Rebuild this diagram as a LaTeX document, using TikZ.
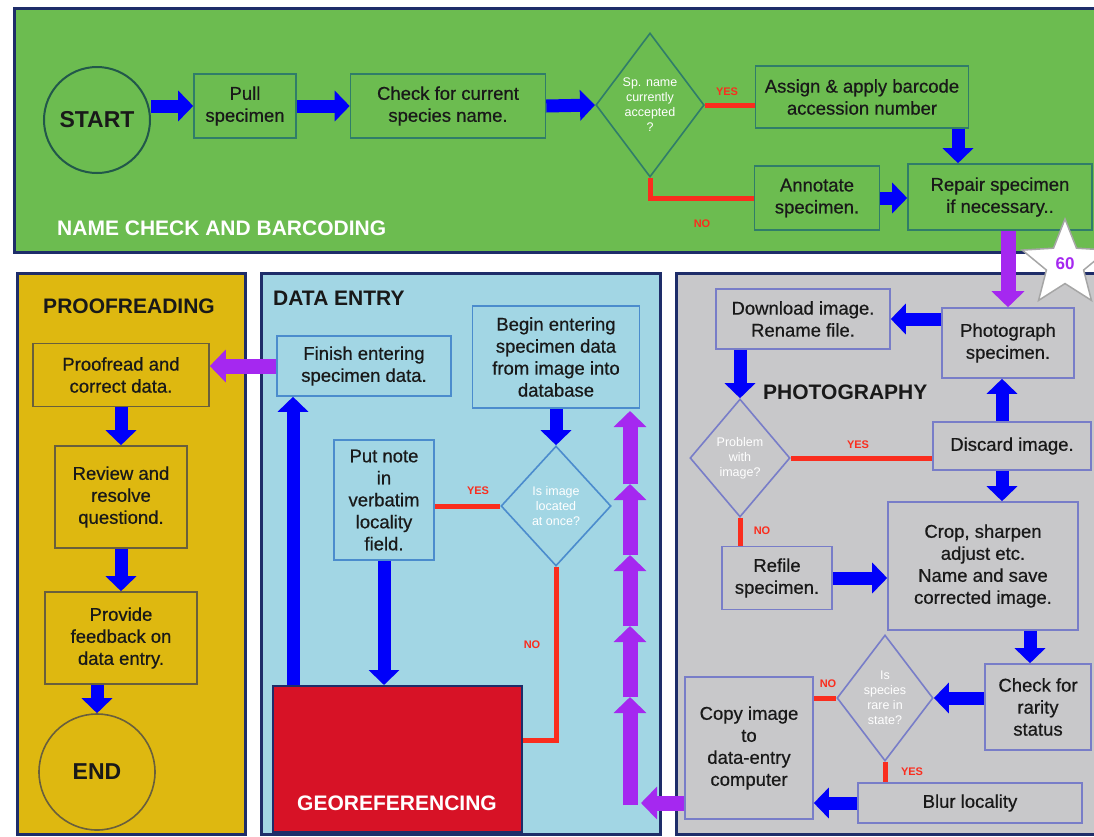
\documentclass[tikz,border=0pt]{standalone}
\usepackage{fontspec}
\setmainfont{Liberation Sans}
\newfontfamily\boxfont{Liberation Sans}[FakeBold=0.6]
\usetikzlibrary{shapes.geometric,arrows.meta}
\definecolor{gfill}{RGB}{108,188,80}
\definecolor{gline}{RGB}{48,125,105}
\definecolor{yfill}{RGB}{222,184,16}
\definecolor{yline}{RGB}{105,95,60}
\definecolor{bfill}{RGB}{162,214,228}
\definecolor{bline}{RGB}{75,140,205}
\definecolor{sfill}{RGB}{200,200,202}
\definecolor{sline}{RGB}{120,125,200}
\definecolor{navy}{RGB}{30,45,105}
\definecolor{arrblue}{RGB}{0,0,250}
\definecolor{arrpurple}{RGB}{165,40,240}
\definecolor{lred}{RGB}{250,45,30}
\definecolor{geored}{RGB}{215,18,38}
\definecolor{txt}{RGB}{25,25,25}
\begin{document}
\begin{tikzpicture}[x=1pt,y=-1pt,
 panel/.style={draw=navy,line width=3pt},
 box/.style={rectangle,draw,line width=1.6pt,align=center,inner sep=2pt,text=txt,font=\boxfont\fontsize{18.5}{22}\selectfont},
 gbox/.style={box,draw=gline,fill=gfill},
 ybox/.style={box,draw=yline,fill=yfill},
 bbox/.style={box,draw=bline,fill=bfill},
 sbox/.style={box,draw=sline,fill=sfill},
 dia/.style={diamond,draw,line width=1.6pt,align=center,inner sep=0pt,text=white,font=\fontsize{12.5}{15}\selectfont},
 headtxt/.style={font=\bfseries\fontsize{21}{24}\selectfont,text=txt,inner sep=0pt},
 barrow/.style={draw=arrblue,line width=13pt,-{Triangle[length=15pt,width=30pt]}},
 parrow/.style={draw=arrpurple,line width=15pt,-{Triangle[length=16pt,width=32pt]}},
 rline/.style={draw=lred,line width=5pt},
 rlab/.style={text=lred,font=\bfseries\fontsize{11}{12}\selectfont,inner sep=0pt},
]
\fill[white] (0,0) rectangle (1094,836);
\useasboundingbox (0,0) rectangle (1094,836);
% panels
\draw[panel,fill=gfill] (14,8) rectangle (1100,252);
\draw[panel,fill=yfill] (17,273) rectangle (245,834);
\draw[panel,fill=bfill] (261,273) rectangle (660,834);
\draw[panel,fill=sfill] (676,273) rectangle (1100,834);

% ---------- name check and barcoding
\node[circle,draw=gline!70!black,line width=2pt,minimum size=106pt,inner sep=0pt,text=txt,font=\bfseries\fontsize{23}{26}\selectfont] (start) at (97,120) {START};
\node[gbox,minimum width=102pt,minimum height=64pt] (pull) at (245,106) {Pull\\specimen};
\node[gbox,minimum width=195pt,minimum height=64pt] (check) at (448,106) {Check for current\\species name.};
\node[dia,draw=gline,minimum width=100pt,minimum height=144pt] (d1) at (650,105) {Sp. name\\currently\\accepted\\?};
\node[gbox,minimum width=213pt,minimum height=62pt] (assign) at (862,97) {Assign \& apply barcode\\accession number};
\node[gbox,minimum width=125pt,minimum height=64pt] (annot) at (817,198) {Annotate\\specimen.};
\node[gbox,minimum width=184pt,minimum height=66pt] (repair) at (1000,197) {Repair specimen\\if necessary..};
\node[headtxt,text=white,anchor=west] (ttl1) at (57,228) {NAME CHECK AND BARCODING};

\draw[barrow] (start.east |- pull.west) -- (pull.west);
\draw[barrow] (pull.east) -- (check.west);
\draw[barrow] (check.east) -- (d1.west);
\draw[rline] (d1.east) -- (d1.east -| assign.west);
\node[rlab] (yes1) at (727,92) {YES};
\draw[barrow] ([xshift=96pt]assign.south) -- ([xshift=96pt]assign.south |- repair.north);
\draw[rline] (d1.south) -- (d1.south |- annot.west) -- (annot.west);
\node[rlab] (no1) at (702,224) {NO};
\draw[barrow] (annot.east) -- (annot.east -| repair.west);

% ---------- proofreading
\node[headtxt] (ttl2) at (129,306) {PROOFREADING};
\node[ybox,minimum width=176pt,minimum height=63pt] (proof) at (121,375) {Proofread and\\correct data.};
\node[ybox,minimum width=132pt,minimum height=102pt] (review) at (121,497) {Review and\\resolve\\questiond.};
\node[ybox,minimum width=152pt,minimum height=92pt] (provide) at (121,638) {Provide\\feedback on\\data entry.};
\node[circle,draw=yline,line width=1.6pt,minimum size=116pt,inner sep=0pt,text=txt,font=\bfseries\fontsize{23}{26}\selectfont] (end) at (97,772) {END};
\draw[barrow] (proof.south) -- (proof.south |- review.north);
\draw[barrow] (review.south) -- (review.south |- provide.north);
\draw[barrow] (provide.south -| end.north) -- (end.north);

% ---------- data entry
\node[headtxt,anchor=west] (ttl3) at (273,298) {DATA ENTRY};
\node[bbox,minimum width=174pt,minimum height=60pt] (finish) at (364,366) {Finish entering\\specimen data.};
\node[bbox,minimum width=167pt,minimum height=102pt] (begin) at (556,357) {Begin entering\\specimen data\\from image into\\database};
\node[bbox,minimum width=100pt,minimum height=120pt] (putnote) at (384,500) {Put note\\in\\verbatim\\locality\\field.};
\node[dia,draw=bline,minimum width=110pt,minimum height=120pt] (d2) at (556,506) {Is image\\located\\at once?};
\node[rectangle,draw=navy,line width=2pt,fill=geored,minimum width=249pt,minimum height=146pt,
  label={[headtxt,text=white,anchor=south,yshift=22pt]south:GEOREFERENCING}] (georef) at (397,759) {};
\coordinate (geoin) at ([yshift=19pt]georef.east);

\draw[barrow] ([xshift=-104pt]georef.north) -- ([xshift=-104pt]georef.north |- finish.south);
\draw[barrow] (putnote.south) -- (putnote.south |- georef.north);
\draw[barrow] (begin.south -| d2.north) -- (d2.north);
\draw[rline] (d2.west) -- (d2.west -| putnote.east);
\node[rlab] (yes2) at (478,491) {YES};
\draw[rline] (d2.south) -- (d2.south |- geoin) -- (geoin);
\node[rlab] (no2) at (532,645) {NO};
\draw[parrow] (finish.west) -- (finish.west -| proof.east);

% purple stack
\coordinate (pA) at (630,805);
\coordinate (pB) at (630,697);
\coordinate (pC) at (630,626);
\coordinate (pD) at (630,555);
\coordinate (pE) at (630,484);
\coordinate (pF) at (630,411);
\draw[parrow] (pA) -- (pB);
\draw[parrow] (pB) -- (pC);
\draw[parrow] (pC) -- (pD);
\draw[parrow] (pD) -- (pE);
\draw[parrow] (pE) -- (pF);
\coordinate (pin) at (641,803);

% ---------- photography
\node[sbox,minimum width=174pt,minimum height=60pt] (download) at (803,319) {Download image.\\Rename file.};
\node[sbox,minimum width=132pt,minimum height=70pt] (photo) at (1008,343) {Photograph\\specimen.};
\node[headtxt,anchor=west] (ttl4) at (763,392) {PHOTOGRAPHY};
\node[dia,draw=sline,minimum width=100pt,minimum height=118pt] (d3) at (740,458) {Problem\\with\\image?};
\node[sbox,minimum width=158pt,minimum height=48pt] (discard) at (1012,446) {Discard image.};
\node[sbox,minimum width=110pt,minimum height=63pt] (refile) at (777,578) {Refile\\specimen.};
\node[sbox,minimum width=190pt,minimum height=128pt] (crop) at (983,566) {Crop, sharpen\\adjust etc.\\Name and save\\corrected image.};
\node[sbox,minimum width=106pt,minimum height=86pt] (rarity) at (1038,707) {Check for\\rarity\\status};
\node[dia,draw=sline,minimum width=96pt,minimum height=126pt] (d4) at (885,698) {Is\\species\\rare in\\state?};
\node[sbox,minimum width=128pt,minimum height=142pt] (copy) at (749,748) {Copy image\\to\\data-entry\\computer};
\node[sbox,minimum width=224pt,minimum height=40pt] (blur) at (970,803) {Blur locality};

\draw[parrow] (photo.north |- repair.south) -- (photo.north);
\node[star,star points=5,star point ratio=2.3,fill=white,draw=gray!70,line width=1.5pt,minimum size=90pt,inner sep=0pt,text=arrpurple,font=\bfseries\fontsize{17}{19}\selectfont] (star) at (1065,264) {60};

\draw[barrow] (photo.west |- download.east) -- (download.east);
\draw[barrow] (download.south -| d3.north) -- (d3.north);
\draw[rline] (d3.east) -- (d3.east -| discard.west);
\node[rlab] (yes3) at (858,445) {YES};
\draw[barrow] ([xshift=-10pt]discard.north) -- ([xshift=-10pt]discard.north |- photo.south);
\draw[barrow] ([xshift=-10pt]discard.south) -- ([xshift=-10pt]discard.south |- crop.north);
\draw[rline] (d3.south) -- (d3.south |- refile.north);
\node[rlab] (no3) at (762,531) {NO};
\draw[barrow] (refile.east) -- (refile.east -| crop.west);
\draw[barrow] ([xshift=-8pt]rarity.north |- crop.south) -- ([xshift=-8pt]rarity.north);
\draw[barrow] (rarity.west |- d4.east) -- (d4.east);
\draw[rline] (d4.west) -- (d4.west -| copy.east);
\node[rlab] (no4) at (828,684) {NO};
\draw[rline] (d4.south) -- (d4.south |- blur.north);
\node[rlab] (yes4) at (912,772) {YES};
\draw[barrow] (blur.west) -- (blur.west -| copy.east);
\draw[parrow] (copy.west |- pin) -- (pin);
\end{tikzpicture}
\end{document}
